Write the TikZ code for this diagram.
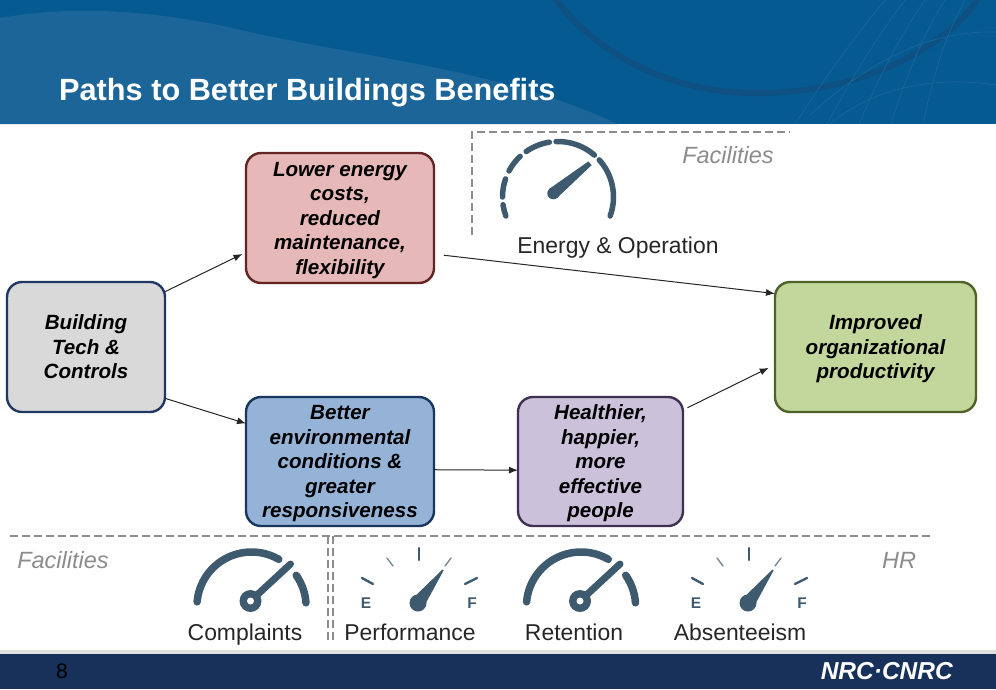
\documentclass[tikz,border=0pt]{standalone}
\usepackage{fontspec}
\setmainfont{Liberation Sans}
\usepackage{tikz}
\usetikzlibrary{arrows.meta,positioning,calc}
\definecolor{headerblue}{RGB}{5, 90, 146}
\definecolor{headerlight}{RGB}{27, 101, 152}
\definecolor{headerarc}{RGB}{14, 80, 130}
\definecolor{headergrid}{RGB}{26, 102, 155}
\definecolor{footerblue}{RGB}{23, 49, 90}
\definecolor{dialblue}{RGB}{62, 90, 110}
\definecolor{dashgray}{RGB}{140, 140, 140}
\definecolor{captiongray}{RGB}{140, 140, 140}
\definecolor{labeldark}{RGB}{38, 38, 38}
\definecolor{techfill}{RGB}{217, 217, 217}
\definecolor{techedge}{RGB}{31, 56, 100}
\definecolor{costfill}{RGB}{230, 184, 183}
\definecolor{costedge}{RGB}{99, 37, 35}
\definecolor{envfill}{RGB}{149, 179, 215}
\definecolor{envedge}{RGB}{23, 55, 94}
\definecolor{peoplefill}{RGB}{204, 193, 218}
\definecolor{peopleedge}{RGB}{64, 49, 82}
\definecolor{productfill}{RGB}{195, 214, 155}
\definecolor{productedge}{RGB}{79, 98, 40}

\begin{document}
\begin{tikzpicture}[x=1pt, y=-1pt,
  benefit/.style={draw=#1, line width=2.4pt, rounded corners=15pt, font=\fontsize{20.6}{24.5}\selectfont\bfseries\itshape, align=center, inner sep=0pt, outer sep=0pt, text=black, text depth=-2pt},
  link/.style={-{Latex[length=9pt,width=7pt]}, line width=1pt, draw=black!85},
  zone/.style={draw=dashgray, line width=2.8pt, dash pattern=on 8pt off 4pt},
  caption/.style={font=\fontsize{23.5}{26}\selectfont\itshape, text=captiongray},
  dialname/.style={font=\fontsize{22.9}{26}\selectfont, text=labeldark, text height=16pt, text depth=5pt, inner sep=0pt},
  dialline/.style={draw=dialblue, line width=#1, line cap=round},
  dialletter/.style={font=\fontsize{15.5}{18}\selectfont\bfseries, text=dialblue},
  pics/arcgauge/.style={code={
    \draw[dialline=7.5pt] ([shift={(1,5.6)}]-175:54.6) arc[start angle=-175, end angle=-60, radius=54.6];
    \draw[dialline=7.5pt] ([shift={(1,5.6)}]-35:54.6) arc[start angle=-35, end angle=-4, radius=54.6];
    \draw[dialline=7pt] (0,0) -- (40,-37);
    \fill[dialblue] (0,0) circle[radius=11];
    \fill[white] (0,0) circle[radius=3.5];
  }},
  pics/fuelgauge/.style={code={
    \draw[dialline=2.4pt] (-56,-25) -- (-45,-19);
    \draw[dialline=1.4pt, opacity=0.7] (-31,-45) -- (-25,-37);
    \draw[dialline=2.4pt] (1,-55) -- (1,-43);
    \draw[dialline=1.4pt, opacity=0.7] (33,-45) -- (27,-37);
    \draw[dialline=2.4pt] (59,-25) -- (47,-19);
    \fill[dialblue] (0,0) circle[radius=8.5];
    \fill[dialblue] (5.6,4.2) -- (25.6,-32.6) -- (24.4,-33.4) -- (-5.6,-4.2) -- cycle;
    \node[dialletter] (e) at (-52,0) {E};
    \node[dialletter] (f) at (54,0) {F};
  }}
]

% Header
\fill[white] (0,0) rectangle (996,689);
\fill[headerblue] (0,0) rectangle (996,124);
\fill[headerlight] (0,18) .. controls (90,2) and (180,15) .. (254,33) .. controls (380,60) and (500,70) .. (618,124) -- (0,124) -- cycle;
\begin{scope}
\clip (0,0) rectangle (996,124);
\draw[headerarc, line width=6pt] (553,-4) .. controls (600,60) and (680,95) .. (762,93) .. controls (860,92) and (945,50) .. (980,-4);
\foreach \gridx in {0,20,40,60,80}
  \draw[headergrid, line width=0.7pt] (795+\gridx*1.6,124) .. controls (830+\gridx*1.3,70) and (860+\gridx*1.1,30) .. (885+\gridx,0);
\draw[headergrid, line width=0.7pt] (810,115) .. controls (860,70) and (920,30) .. (996,32);
\draw[headergrid, line width=0.7pt] (830,124) .. controls (870,90) and (930,75) .. (996,85);
\end{scope}
\node[font=\fontsize{30.7}{32}\selectfont\bfseries, text=white, anchor=west, inner sep=0pt] (title) at (59,93) {Paths to Better Buildings Benefits};

% Footer
\fill[black!12] (0,650) rectangle (996,654);
\fill[footerblue] (0,654) rectangle (996,689);
\node[font=\fontsize{21}{24}\selectfont, text=black] (page) at (62,671) {8};
\node[font=\fontsize{24.5}{28}\selectfont\bfseries\itshape, text=white, anchor=east, inner sep=0pt] (logo) at (953,671) {NRC·CNRC};

% Boxes
\node[benefit=techedge, fill=techfill, minimum width=158pt, minimum height=130pt] (tech) at (86,347) {Building\\Tech \&\\Controls};
\node[benefit=costedge, fill=costfill, minimum width=188pt, minimum height=130pt] (costs) at (340,218) {Lower energy\\costs,\\reduced\\maintenance,\\flexibility};
\node[benefit=envedge, fill=envfill, minimum width=188pt, minimum height=129pt] (envcond) at (340,461.5) {Better\\environmental\\conditions \&\\greater\\responsiveness};
\node[benefit=peopleedge, fill=peoplefill, minimum width=165pt, minimum height=129pt] (people) at (600.5,461.5) {Healthier,\\happier,\\more\\effective\\people};
\node[benefit=productedge, fill=productfill, minimum width=201pt, minimum height=130pt] (product) at (875.5,347) {Improved\\organizational\\productivity};

% Links
\draw[link, shorten >=4pt] (tech.35) -- (costs.200);
\draw[link, shorten <=10pt] (costs.-21) -- (product.152);
\draw[link] (tech.-33) -- (envcond.158);
\draw[link] (envcond.-5) -- (people.186);
\draw[link, shorten <=5pt, shorten >=7pt] (people.32) -- (product.190);

% Zones
\draw[zone] (472,235) -- (472,132) -- (790,132);
\draw[zone] (10,536) -- (930,536);
\draw[zone] (328,536) -- (328,640);
\draw[zone] (333,536) -- (333,640);
\node[caption] (facilitiestop) at (728,155) {Facilities};
\node[caption] (facilitiesbottom) at (63,560) {Facilities};
\node[caption] (hr) at (899,560) {HR};

% Energy dial
\begin{scope}[shift={(558,197)}]
\foreach \from/\to in {188/200,161/180,133/152,99/125,49/92,-20/42}
  \draw[dialline=5.5pt] (-\from:55.5) arc[start angle=-\from, end angle=-\to, radius=55.5];
\fill[dialblue] (-4.7,-3.7) circle[radius=6];
\fill[dialblue] (-8.5,-8.3) -- (30.4,-35.6) -- (33.6,-31.8) -- (-0.9,0.9) -- cycle;
\end{scope}
\node[dialname] (energy) at (618,247.5) {Energy \& Operation};

% Bottom dials
\pic (complaintsdial) at (250.5,601) {arcgauge};
\pic (performancedial) at (418,603) {fuelgauge};
\pic (retentiondial) at (580,601) {arcgauge};
\pic (absenteeismdial) at (748,603) {fuelgauge};
\node[dialname] (complaints) at (245,634.5) {Complaints};
\node[dialname] (performance) at (410,634.5) {Performance};
\node[dialname] (retention) at (574,634.5) {Retention};
\node[dialname] (absenteeism) at (740,634.5) {Absenteeism};

\end{tikzpicture}
\end{document}
